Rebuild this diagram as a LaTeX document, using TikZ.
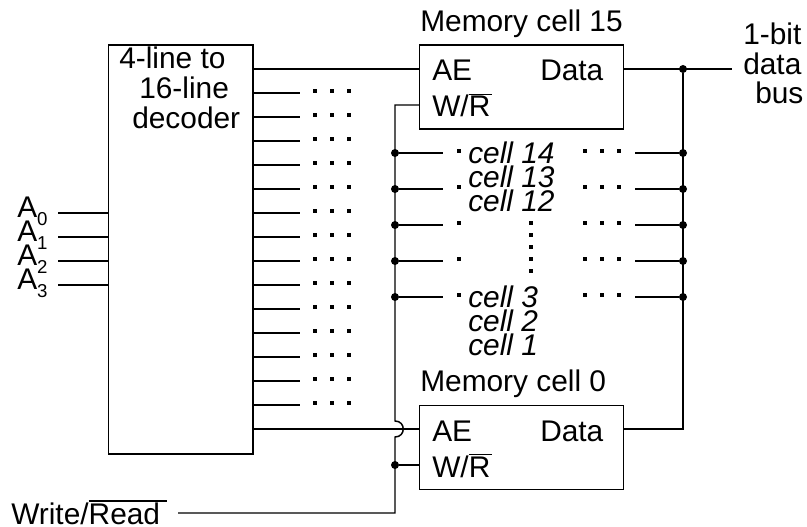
\documentclass[tikz,border=0pt]{standalone}
\usepackage{fontspec}
\setmainfont{Liberation Sans}
\newcommand{\ovl}[2]{\vbox{\hrule height 0.9pt\kern 0.9pt\hbox{#1\kern #2}}}
\newcommand{\subdig}[1]{\raisebox{-6pt}{\fontsize{14}{14}\selectfont #1}}
\tikzset{
  x=0.75pt,y=-0.75pt,
  wire/.style={line width=1.1pt,black},
  box/.style={draw,line width=1.1pt,black,fill=white,inner sep=0pt,anchor=north west},
  txt/.style={font=\fontsize{22.4}{22.4}\selectfont,inner sep=0pt,anchor=base west},
  celltxt/.style={txt,font=\fontsize{22.4}{22.4}\selectfont\itshape},
  jn/.style={circle,fill=black,inner sep=0pt,minimum size=6pt},
  tinydot/.style={rectangle,fill=black,inner sep=0pt,minimum size=2.7pt}
}
\begin{document}
\begin{tikzpicture}
\useasboundingbox (0,0) rectangle (807,527);
\node[box,minimum width=108.4pt,minimum height=306.4pt] (dec) at (107.5,44.5) {};
\node[box,minimum width=153pt,minimum height=63pt] (mA) at (419,44.5) {};
\node[box,minimum width=153pt,minimum height=63pt] (mB) at (419,404.5) {};
\node[txt] (d1) at (119,69) {4-line to};
\node[txt] (d2) at (139,99) {16-line};
\node[txt] (d3) at (132,129) {decoder};
\node[txt] (t15) at (420,32) {Memory cell 15};
\node[txt] (t0) at (420,392) {Memory cell 0};
\node[txt] (ae1) at (432,81) {AE};
\node[txt] (da1) at (540,81) {Data};
\node[txt] (wr1) at (432,117) {W/\ovl{R}{1.5pt}};
\node[txt] (ae2) at (432,441) {AE};
\node[txt] (da2) at (540,441) {Data};
\node[txt] (wr2) at (432,477) {W/\ovl{R}{1.5pt}};
\node[txt] (b1) at (743,45) {1-bit};
\node[txt] (b2) at (743,75) {data};
\node[txt] (b3) at (755,104) {bus};
\foreach \n/\y in {0/218,1/242,2/266,3/290}{
  \node[txt] (a\n) at (17,\y) {A\subdig{\n}};
}
\node[txt] (wrl) at (11,524.5) {Write/\ovl{Read}{5.5pt}};
\foreach \t/\y in {14/164,13/188,12/212,3/308,2/332,1/356}{
  \node[celltxt] (c\t) at (468,\y) {cell \t};
}
% address lines
\foreach \n/\y in {0/213,1/237,2/261,3/285}{
  \coordinate (as\n) at (58,\y);
  \draw[wire] (as\n) -- (as\n -| dec.west);
}
% decoder output stubs and dots
\foreach \y in {93,117,...,405}{
  \coordinate (s\y) at (300,\y);
  \draw[wire] (s\y -| dec.east) -- (s\y);
  \foreach \x in {315,332,349}{\node[tinydot] at (\x,\y-2) {};}
}
% enable lines
\coordinate (ae15) at (417,69);
\draw[wire] (ae15 -| dec.east) -- (ae15 -| mA.west);
\coordinate (ae0) at (417,429);
\coordinate (wrtop) at (395,105);
\coordinate (wrbot) at (395,513);
\coordinate (wrst) at (178,513);
\draw[wire] (wrtop -| mA.west) -- (wrtop) -- (395,421)
  .. controls (406,421) and (406,437) .. (395,437) -- (wrbot) -- (wrst);
\draw[wire] (ae0 -| dec.east) -- (ae0 -| mB.west);
\coordinate (w0) at (395,465);
\node[jn] (jw0) at (w0) {};
\draw[wire] (jw0) -- (w0 -| mB.west);
% right bus
\coordinate (r15) at (683,69);
\coordinate (r0) at (683,429);
\coordinate (busend) at (732,69);
\node[jn] (jr) at (r15) {};
\draw[wire] (r15 -| mA.east) -- (busend);
\draw[wire] (jr) -- (r0) -- (r0 -| mB.east);
% middle rows
\foreach \y in {153,189,225,261,297}{
  \node[jn] (l\y) at (395,\y) {};
  \node[jn] (r\y) at (683,\y) {};
  \coordinate (ls\y) at (443,\y);
  \coordinate (rs\y) at (635,\y);
  \draw[wire] (l\y) -- (ls\y);
  \draw[wire] (rs\y) -- (r\y);
  \node[tinydot] at (459,\y-2) {};
  \foreach \x in {585,602,619}{\node[tinydot] at (\x,\y-2) {};}
}
\foreach \y in {223,235,247,259,271}{\node[tinydot] at (531,\y) {};}
\end{tikzpicture}
\end{document}
